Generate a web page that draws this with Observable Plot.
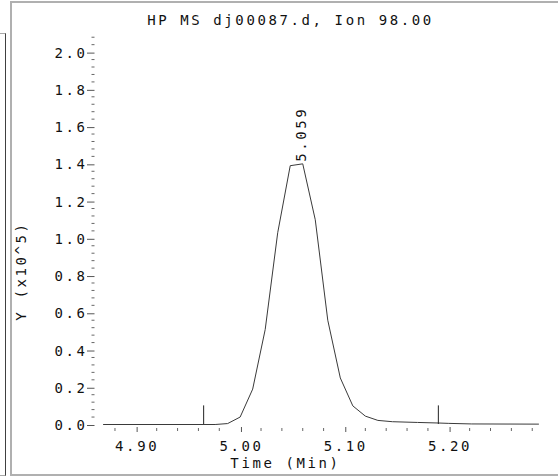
<!DOCTYPE html>
<html><head><meta charset="utf-8">
<script src="https://cdn.jsdelivr.net/npm/d3@7"></script>
<script src="https://cdn.jsdelivr.net/npm/@observablehq/plot@0.6"></script>
<style>
html,body{margin:0;padding:0;background:#fff;}
#wrap{position:relative;width:558px;height:476px;overflow:hidden;}
#side{position:absolute;left:0;top:33px;width:5px;height:441px;border-top:1px solid #a8a8a8;border-right:1px solid #404040;border-bottom:1px solid #a8a8a8;}
#frame{position:absolute;left:10px;top:1px;width:560px;height:471px;border:2px solid #b0b0b0;border-right:none;}
#chart{position:absolute;left:0;top:0;}
</style></head><body>
<div id="wrap"><div id="side"></div><div id="frame"></div><div id="chart"></div></div>
<script>
const titleText = "HP MS dj00087.d, Ion 98.00";
const xLabel = "Time (Min)";
const yLabel = "Y (x10^5)";
const times = [4.869, 4.976, 4.988, 5.000, 5.012, 5.024, 5.036, 5.048, 5.060, 5.072, 5.084, 5.096, 5.108, 5.120, 5.132, 5.146, 5.170, 5.190, 5.200, 5.222, 5.286];
const abundance = [0, 0, 0.005, 0.04, 0.19, 0.51, 1.03, 1.39, 1.40, 1.10, 0.56, 0.25, 0.10, 0.045, 0.022, 0.015, 0.011, 0.008, 0.006, 0.003, 0.002];
const markerTimes = [4.965, 5.190];
const markerHeights = [0.10, 0.10];
const peakTimes = [5.059];
const peakValues = [1.40];
const peakLabels = ["5.059"];
const xMajorTicks = [4.90, 5.00, 5.10, 5.20];
const xMinorTicks = [4.88, 4.92, 4.94, 4.96, 4.98, 5.02, 5.04, 5.06, 5.08, 5.12, 5.14, 5.16, 5.18, 5.22, 5.24, 5.26, 5.28];
const yMajorTicks = [0.0, 0.2, 0.4, 0.6, 0.8, 1.0, 1.2, 1.4, 1.6, 1.8, 2.0];
const yMinorTicks = [0.04,0.08,0.12,0.16,0.24,0.28,0.32,0.36,0.44,0.48,0.52,0.56,0.64,0.68,0.72,0.76,0.84,0.88,0.92,0.96,1.04,1.08,1.12,1.16,1.24,1.28,1.32,1.36,1.44,1.48,1.52,1.56,1.64,1.68,1.72,1.76,1.84,1.88,1.92,1.96,2.04,2.08];

const data = times.map((t, i) => ({t, v: abundance[i]}));
const markers = markerTimes.map((t, i) => ({t, h: markerHeights[i]}));
const peaks = peakTimes.map((t, i) => ({t, v: peakValues[i], label: peakLabels[i]}));
const font = "'DejaVu Sans Mono', monospace";
const ink = "#111";

const plot = Plot.plot({
  width: 558, height: 476,
  marginLeft: 103, marginRight: 20, marginTop: 33, marginBottom: 52,
  x: {domain: [4.869, 5.286]},
  y: {domain: [0, 2.1]},
  style: {fontFamily: font, fontSize: "14px", letterSpacing: "2.6px", color: ink, background: "transparent", overflow: "visible"},
  marks: [
    Plot.axisY({ticks: yMinorTicks, tickSize: 3, dx: -8.5, text: null, label: null, stroke: "#666"}),
    Plot.axisY({ticks: yMajorTicks, tickSize: 7.5, dx: -8.5, tickPadding: 0, dy: 1, tickFormat: d3.format(".1f"), label: null, stroke: "#555", fill: ink}),
    Plot.axisX({ticks: xMinorTicks, tickSize: 3, dy: 4, text: null, label: null, stroke: "#666"}),
    Plot.axisX({ticks: xMajorTicks, tickSize: 5, dy: 3, tickPadding: 8.5, dx: 1.3, tickFormat: d3.format(".2f"), label: null, stroke: "#555", fill: ink}),
    Plot.line(data, {x: "t", y: "v", stroke: "#3a3a3a", strokeWidth: 1}),
    Plot.ruleX(markers, {x: "t", y1: d => 0, y2: "h", stroke: "#222", strokeWidth: 1}),
    Plot.text(peaks, {x: "t", y: "v", text: "label", rotate: -90, textAnchor: "start", dy: -2, fill: ink}),
    Plot.text([titleText], {frameAnchor: "top-left", text: d => d, dx: 187, dy: -18, textAnchor: "middle", fill: ink}),
    Plot.text([xLabel], {frameAnchor: "bottom-left", text: d => d, dx: 182, dy: 43, textAnchor: "middle", fill: ink}),
    Plot.text([yLabel], {frameAnchor: "left", text: d => d, rotate: -90, dx: -82, dy: 42, textAnchor: "middle", fill: ink})
  ]
});
document.getElementById("chart").appendChild(plot);
</script>
</body></html>
